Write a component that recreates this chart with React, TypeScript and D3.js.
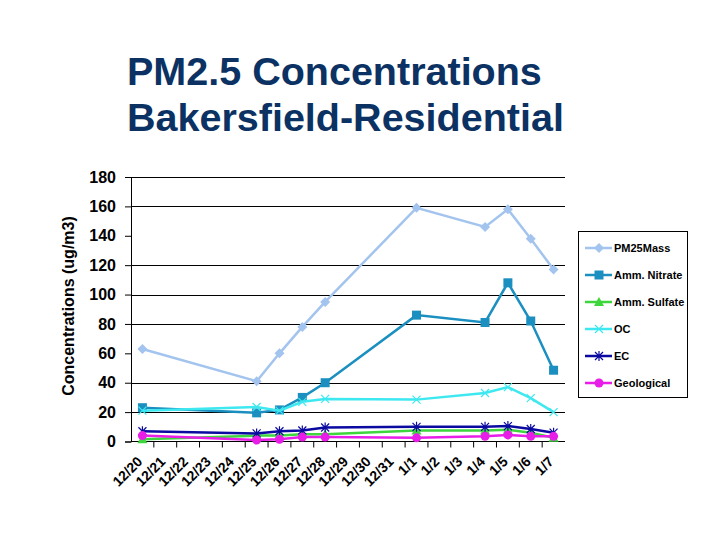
import React, { useEffect, useRef } from 'react';
import * as d3 from 'd3';

const categories = ['12/20', '12/21', '12/22', '12/23', '12/24', '12/25', '12/26', '12/27', '12/28', '12/29',
  '12/30', '12/31', '1/1', '1/2', '1/3', '1/4', '1/5', '1/6', '1/7'];

// sampled days (other days have no data, line connects across)
const sampleDays = ['12/20', '12/25', '12/26', '12/27', '12/28', '1/1', '1/4', '1/5', '1/6', '1/7'];

const pm25Mass = [63, 41, 60, 78, 95, 159, 146, 158, 138, 117];
const ammNitrate = [23, 19.5, 21.5, 30, 40, 86, 81, 108, 82, 48.5];
const ammSulfate = [1.5, 4, 4, 5, 5, 7.5, 7.5, 8, 6, 2.5];
const oc = [21, 23.5, 21, 27, 29, 28.5, 33, 37, 29.5, 20];
const ec = [7, 5.5, 7, 7.5, 9.5, 10, 10, 10.5, 8.5, 6];
const geological = [4, 1, 1.5, 3, 3, 2.5, 3.5, 4.5, 3.5, 3.5];

const yTicks = [0, 20, 40, 60, 80, 100, 120, 140, 160, 180];
const gridValues = [20, 40, 80, 100, 120, 160, 180];

const series = [
  { name: 'PM25Mass', values: pm25Mass, color: '#a3c4ee', marker: 'diamond' },
  { name: 'Amm. Nitrate', values: ammNitrate, color: '#1b8fbf', marker: 'square' },
  { name: 'Amm. Sulfate', values: ammSulfate, color: '#3dd63d', marker: 'triangle' },
  { name: 'OC', values: oc, color: '#3ee8f0', marker: 'x' },
  { name: 'EC', values: ec, color: '#0a0aa0', marker: 'star' },
  { name: 'Geological', values: geological, color: '#e81ee8', marker: 'circle' },
];

const drawMarker = (g, type, x, y, color) => {
  if (type === 'diamond') {
    g.append('path').attr('d', `M${x},${y - 5}L${x + 5},${y}L${x},${y + 5}L${x - 5},${y}Z`).attr('fill', color);
  } else if (type === 'square') {
    g.append('rect').attr('x', x - 4.5).attr('y', y - 4.5).attr('width', 9).attr('height', 9).attr('fill', color);
  } else if (type === 'triangle') {
    g.append('path').attr('d', `M${x},${y - 5}L${x + 5},${y + 4}L${x - 5},${y + 4}Z`).attr('fill', color);
  } else if (type === 'circle') {
    g.append('circle').attr('cx', x).attr('cy', y).attr('r', 4.5).attr('fill', color);
  } else if (type === 'x') {
    g.append('path').attr('d', `M${x - 4},${y - 4}L${x + 4},${y + 4}M${x - 4},${y + 4}L${x + 4},${y - 4}`)
      .attr('stroke', color).attr('stroke-width', 1.2);
  } else if (type === 'star') {
    g.append('path')
      .attr('d', `M${x - 4},${y - 4}L${x + 4},${y + 4}M${x - 4},${y + 4}L${x + 4},${y - 4}M${x},${y - 5}L${x},${y + 5}`)
      .attr('stroke', color).attr('stroke-width', 1.2);
  }
};

const App = () => {
  const svgRef = useRef(null);

  useEffect(() => {
    const width = 720;
    const height = 540;
    const margin = { top: 177, right: 155, bottom: 98, left: 131 };
    const font = 'Arial, "Liberation Sans", sans-serif';

    const svg = d3.select(svgRef.current);
    svg.selectAll('*').remove();
    svg.attr('width', width).attr('height', height).style('background', '#fff');

    const x = d3.scaleBand().domain(categories).range([margin.left, width - margin.right]);
    const y = d3.scaleLinear().domain([0, 180]).range([height - margin.bottom - 0.5, margin.top]);

    // title
    const title = svg.append('text').attr('fill', '#0b3263')
      .style('font-family', font).style('font-weight', 'bold').style('font-size', '39.5px');
    title.append('tspan').attr('x', 127).attr('y', 85).text('PM2.5 Concentrations');
    title.append('tspan').attr('x', 127).attr('y', 131).text('Bakersfield-Residential');

    // gridlines
    svg.append('g').selectAll('line').data(gridValues).join('line')
      .attr('x1', margin.left).attr('x2', width - margin.right)
      .attr('y1', d => Math.round(y(d)) + 0.5).attr('y2', d => Math.round(y(d)) + 0.5)
      .attr('stroke', '#000').attr('stroke-width', 1);

    // y axis
    const yAxis = svg.append('g').attr('transform', `translate(${margin.left},0)`)
      .call(d3.axisLeft(y).tickValues(yTicks).tickSize(6).tickPadding(9));
    yAxis.select('.domain').attr('stroke', '#000');
    yAxis.selectAll('text').style('font-family', font).style('font-weight', 'bold').style('font-size', '16px')
      .attr('fill', '#000');

    // x axis, ticks between categories
    const xAxisG = svg.append('g').attr('transform', `translate(0,${y(0)})`);
    xAxisG.append('line').attr('x1', margin.left).attr('x2', width - margin.right).attr('stroke', '#000');
    xAxisG.selectAll('.tk').data(categories.slice(1)).join('line').attr('class', 'tk')
      .attr('x1', d => x(d)).attr('x2', d => x(d)).attr('y1', 0).attr('y2', 6).attr('stroke', '#000');
    xAxisG.selectAll('.lbl').data(categories).join('text').attr('class', 'lbl')
      .attr('transform', d => `translate(${x(d) + x.bandwidth() / 2 - 6},14) rotate(-45)`)
      .attr('text-anchor', 'end').attr('dy', '0.7em')
      .style('font-family', font).style('font-weight', 'bold').style('font-size', '14px')
      .text(d => d);

    // y axis title
    svg.append('text').attr('transform', `translate(74,306) rotate(-90)`).attr('text-anchor', 'middle')
      .style('font-family', font).style('font-weight', 'bold').style('font-size', '16px')
      .text('Concentrations (ug/m3)');

    // series
    const cx = d => x(d) + x.bandwidth() / 2;
    const line = d3.line().x(d => cx(d[0])).y(d => y(d[1]));
    series.forEach(s => {
      const pts = sampleDays.map((day, i) => [day, s.values[i]]);
      const g = svg.append('g');
      g.append('path').datum(pts).attr('d', line).attr('fill', 'none')
        .attr('stroke', s.color).attr('stroke-width', 2.5);
      pts.forEach(p => drawMarker(g, s.marker, cx(p[0]), y(p[1]), s.color));
    });

    // legend
    const lg = svg.append('g').attr('transform', 'translate(578,231)');
    lg.append('rect').attr('x', 0.5).attr('y', 0.5).attr('width', 109).attr('height', 166)
      .attr('fill', '#fff').attr('stroke', '#000');
    series.forEach((s, i) => {
      const ly = 17 + i * 27;
      lg.append('line').attr('x1', 7).attr('x2', 34).attr('y1', ly).attr('y2', ly)
        .attr('stroke', s.color).attr('stroke-width', 2.5);
      drawMarker(lg, s.marker, 21, ly, s.color);
      lg.append('text').attr('x', 36).attr('y', ly).attr('dy', '0.35em')
        .style('font-family', font).style('font-weight', 'bold').style('font-size', '11px')
        .text(s.name);
    });
  }, []);

  return <svg ref={svgRef} style={{ display: 'block', position: 'absolute', left: 0, top: 0 }}></svg>;
};

export default App;
